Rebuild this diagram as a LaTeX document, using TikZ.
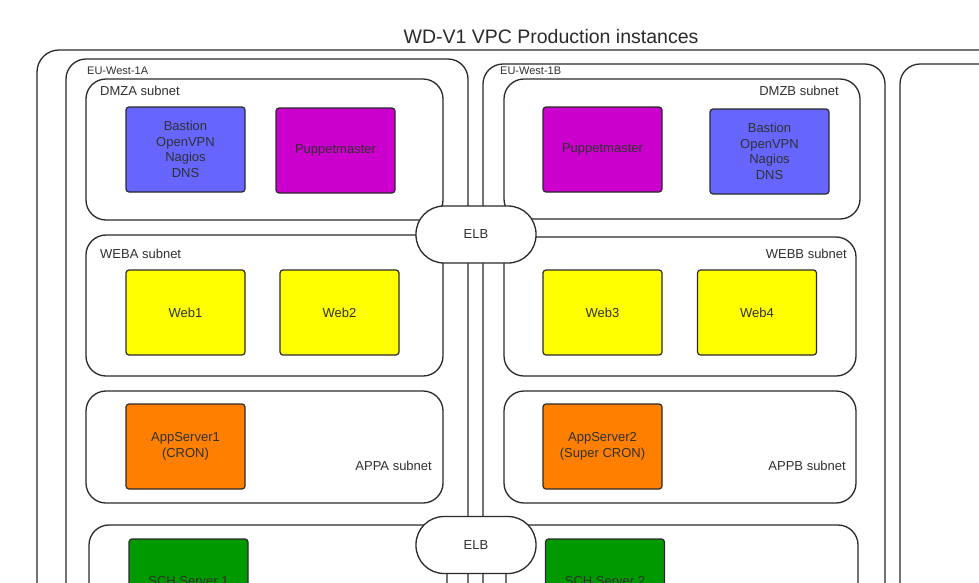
\documentclass[tikz,border=0pt]{standalone}
\usepackage{fontspec}
\setmainfont{Liberation Sans}
\definecolor{linec}{HTML}{2A2A2A}
\definecolor{txt}{HTML}{303030}
\definecolor{bastion}{HTML}{6666FF}
\definecolor{puppet}{HTML}{CC00CC}
\definecolor{web}{HTML}{FFFF00}
\definecolor{app}{HTML}{FF8000}
\definecolor{sch}{HTML}{009900}
\newcommand{\boxfont}{\fontsize{13}{15.5}\selectfont}
\newcommand{\smallfont}{\fontsize{11}{13}\selectfont}
\tikzset{
  zone/.style={draw=linec, line width=1.3, rounded corners=20},
  outerzone/.style={draw=linec, line width=1.3, rounded corners=22},
  server/.style={draw=linec, line width=1.2, rounded corners=3, minimum width=119, minimum height=85,
    inner sep=0, align=center, font=\boxfont, text=txt},
  elb/.style={draw=linec, fill=white, line width=1.3, rounded corners=28, minimum width=120,
    minimum height=57, inner sep=0, font=\boxfont, text=txt},
  lbl/.style={font=\boxfont, text=txt, inner sep=0},
  azlbl/.style={font=\smallfont, text=txt, inner sep=0}
}
\begin{document}
\begin{tikzpicture}[x=1pt,y=-1pt]
\useasboundingbox (0,0) rectangle (979,582);
\clip (0,0) rectangle (979,582);
\fill[white] (0,0) rectangle (979,582);
% title
\node[font=\fontsize{19.5}{22}\selectfont, text=linec, inner sep=0] (title) at (551,37) {WD-V1 VPC Production instances};
% VPC and availability zones
\draw[outerzone] (37,50) rectangle (1100,800);
\draw[zone] (66,59) rectangle (468,800);
\draw[zone] (483,64) rectangle (885,800);
\draw[zone] (900,64) rectangle (1100,800);
\node[azlbl, anchor=west] (az1) at (87,71) {EU-West-1A};
\node[azlbl, anchor=west] (az2) at (500,71) {EU-West-1B};
% subnets
\draw[zone] (86,79) rectangle (443,220);
\draw[zone] (504,79) rectangle (860,219);
\draw[zone] (86,235) rectangle (443,376);
\draw[zone] (504,237) rectangle (856,376);
\draw[zone] (86,391) rectangle (443,503);
\draw[zone] (504,391) rectangle (856,503);
\draw[zone] (89,525) rectangle (447,800);
\draw[zone] (506,525) rectangle (858,800);
\node[lbl, anchor=west] (dmza) at (100,91) {DMZA subnet};
\node[lbl, anchor=east] (dmzb) at (839,91) {DMZB subnet};
\node[lbl, anchor=west] (weba) at (100,254) {WEBA subnet};
\node[lbl, anchor=east] (webb) at (847,254) {WEBB subnet};
\node[lbl, anchor=east] (appa) at (432,466) {APPA subnet};
\node[lbl, anchor=east] (appb) at (846,466) {APPB subnet};
% servers
\node[server, fill=bastion] (bastA) at (185.5,149.5) {Bastion\\OpenVPN\\Nagios\\DNS};
\node[server, fill=puppet] (pupA) at (335.5,150.5) {Puppetmaster};
\node[server, fill=puppet] (pupB) at (602.5,149.5) {Puppetmaster};
\node[server, fill=bastion] (bastB) at (769.5,151.5) {Bastion\\OpenVPN\\Nagios\\DNS};
\node[server, fill=web] (web1) at (185.5,312.5) {Web1};
\node[server, fill=web] (web2) at (339.5,312.5) {Web2};
\node[server, fill=web] (web3) at (602.5,312.5) {Web3};
\node[server, fill=web] (web4) at (757,312.5) {Web4};
\node[server, fill=app] (app1) at (185.5,446.5) {AppServer1\\(CRON)};
\node[server, fill=app] (app2) at (602.5,446.5) {AppServer2\\(Super CRON)};
\node[server, fill=sch] (sch1) at (188.5,581.5) {SCH Server 1};
\node[server, fill=sch] (sch2) at (605,581.5) {SCH Server 2};
% load balancers
\node[elb] (elb1) at (476,234.5) {ELB};
\node[elb] (elb2) at (476,545) {ELB};
\end{tikzpicture}
\end{document}
